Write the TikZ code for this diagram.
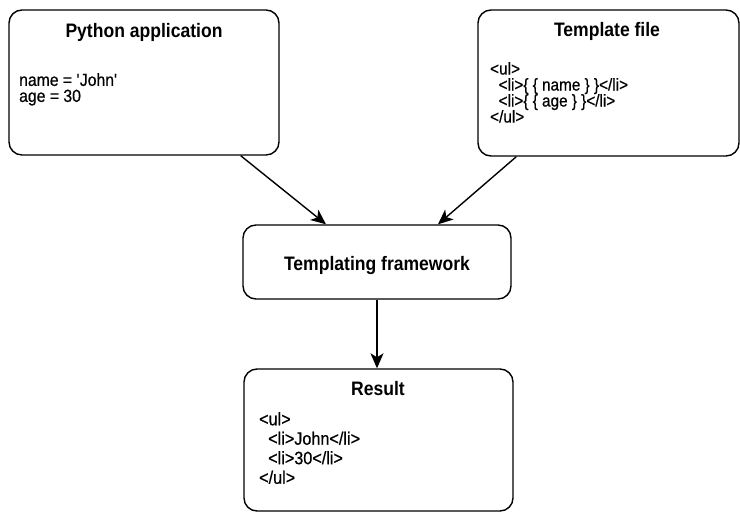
\documentclass[tikz,border=0pt]{standalone}
\usepackage{fontspec}
\setmainfont[FakeStretch=0.9]{Liberation Sans}
\usetikzlibrary{arrows.meta}
\begin{document}
\begin{tikzpicture}[x=1pt,y=-1pt,
	box/.style={draw,line width=1.4pt,rounded corners=13pt,inner sep=0pt},
	title/.style={font=\fontsize{19.5}{20}\selectfont\bfseries,anchor=base,inner sep=0pt},
	body/.style={align=left,anchor=north west,inner sep=0pt},
	flow/.style={line width=1.4pt,-{Stealth[length=15pt,width=13pt,inset=4pt]}}]
\useasboundingbox (0,0) rectangle (740,512);
% boxes
\node[box,minimum width=270,minimum height=145] (app) at (144,82.5) {};
\node[box,minimum width=261,minimum height=146] (tpl) at (608.5,83) {};
\node[box,minimum width=268,minimum height=74] (fw) at (377,262) {};
\node[box,minimum width=269,minimum height=142] (res) at (378.5,440) {};
% texts
\node[title] (apptitle) at (144,37) {Python application};
\node[body,font=\fontsize{17.5}{16}\selectfont\addfontfeature{FakeBold=0.6}] (appbody) at (19,73)
	{name = \textquotesingle John\textquotesingle\\age = 30};
\node[title] (tpltitle) at (607,36) {Template file};
\node[body,font=\fontsize{17}{16}\selectfont\addfontfeature{FakeBold=0.6}] (tplbody) at (490,62)
	{<ul>\\\ \ <li>\{ \{ name \} \}</li>\\\ \ <li>\{ \{ age \} \}</li>\\</ul>};
\node[title] (fwtitle) at (377,270) {Templating framework};
\node[title] (restitle) at (378,395) {Result};
\node[body,font=\fontsize{18}{19.5}\selectfont\addfontfeature{FakeBold=0.6}] (resbody) at (259,412)
	{<ul>\\\ \ <li>John</li>\\\ \ <li>30</li>\\</ul>};
% arrows
\draw[flow] ([xshift=-39]app.south east) -- ([xshift=-51]fw.north);
\draw[flow] ([xshift=39]tpl.south west) -- ([xshift=61]fw.north);
\draw[flow] (fw.south) -- (fw.south |- res.north);
\end{tikzpicture}
\end{document}
